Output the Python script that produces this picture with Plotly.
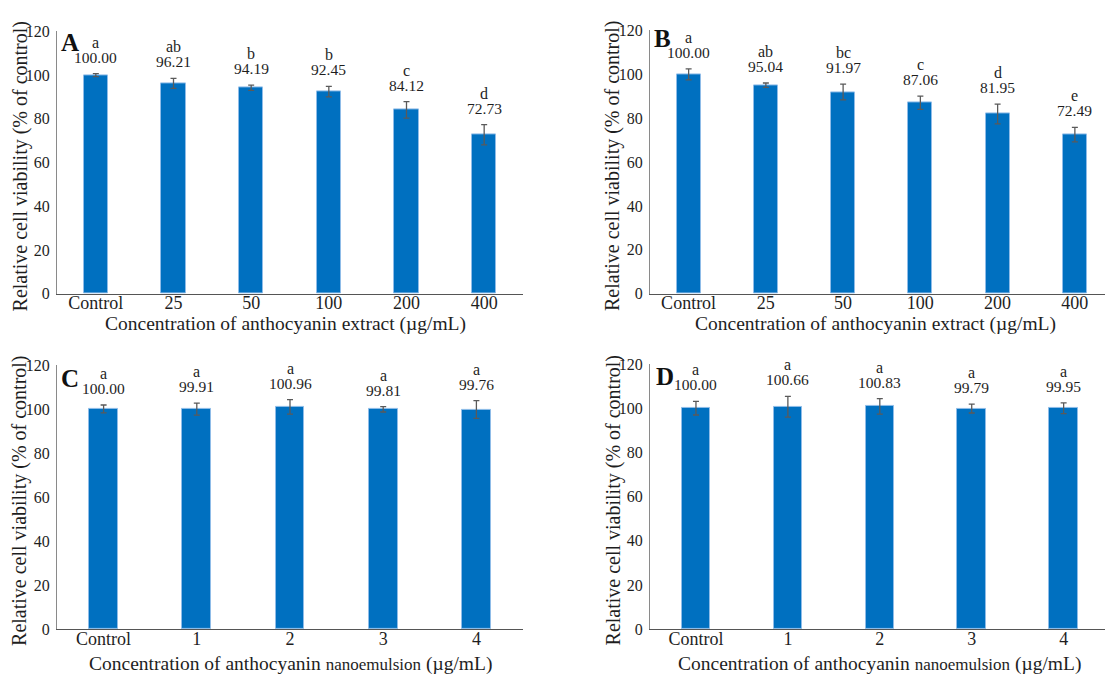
import plotly.graph_objects as go

# ---- data -------------------------------------------------------------
cats_extract = ["Control", "25", "50", "100", "200", "400"]
cats_nano = ["Control", "1", "2", "3", "4"]

vals_a = [100.00, 96.21, 94.19, 92.45, 84.12, 72.73]
err_a = [0.7, 2.3, 1.2, 2.4, 3.8, 4.6]
sig_a = ["a", "ab", "b", "b", "c", "d"]

vals_b = [100.00, 95.04, 91.97, 87.06, 81.95, 72.49]
err_b = [2.5, 1.0, 3.6, 3.0, 4.5, 3.3]
sig_b = ["a", "ab", "bc", "c", "d", "e"]

vals_c = [100.00, 99.91, 100.96, 99.81, 99.76]
err_c = [1.8, 2.7, 3.3, 1.2, 4.0]
sig_c = ["a", "a", "a", "a", "a"]

vals_d = [100.00, 100.66, 100.83, 99.79, 99.95]
err_d = [3.1, 4.7, 3.5, 2.0, 2.4]
sig_d = ["a", "a", "a", "a", "a"]

y_ticks = [0, 20, 40, 60, 80, 100, 120]

# ---- styling ----------------------------------------------------------
W, H = 1105, 684
FONT = "Liberation Serif"
TXT = "#1e1e1e"
BAR = "#0070C0"
EDGE = "#8fbce8"
ERR = "#5a5a5a"


def px_x(p):
    return p / W


def px_y(p):
    return 1 - p / H


title_extract = "Concentration of anthocyanin extract (µg/mL)"
title_nano = ("Concentration of anthocyanin "
              "<span style='font-size:17px'>nanoemulsion</span> (µg/mL)")

panels = [
    # letter, cats, vals, err, sig, x-domain px, y-domain px (top, bottom), x range,
    # x title, x-title centre px, x-title offset below axis, letter centre px
    ("A", cats_extract, vals_a, err_a, sig_a, (57, 523), (24, 293), [-0.5, 5.5],
     title_extract, 285, 31, (70, 35)),
    ("B", cats_extract, vals_b, err_b, sig_b, (650, 1105), (23, 293), [-0.5, 5.39],
     title_extract, 875, 31, (662, 31)),
    ("C", cats_nano, vals_c, err_c, sig_c, (57, 523), (366, 637), [-0.5, 4.5],
     title_nano, 290, 36, (70, 380)),
    ("D", cats_nano, vals_d, err_d, sig_d, (650, 1105), (365, 637), [-0.5, 4.45],
     title_nano, 879, 36, (665, 378)),
]

fig = go.Figure()
annotations = []
layout_axes = {}

for i, (letter, cats, vals, err, sig, xd, yd, xr, xtitle, xtc, xtoff, lpos) in enumerate(panels):
    n = "" if i == 0 else str(i + 1)
    xa, ya = "x" + n, "y" + n
    xpos = list(range(len(cats)))

    fig.add_trace(go.Bar(
        x=xpos, y=vals, xaxis=xa, yaxis=ya, width=0.31,
        marker=dict(color=BAR, line=dict(color=EDGE, width=1)),
        error_y=dict(type="data", array=err, visible=True,
                     color=ERR, thickness=1.3, width=3),
        showlegend=False, hoverinfo="skip",
    ))

    layout_axes["xaxis" + n] = dict(
        domain=[px_x(xd[0]), min(px_x(xd[1]), 1.0)], anchor=ya,
        range=xr, tickmode="array", tickvals=xpos, ticktext=cats,
        showline=True, linecolor="#555555", linewidth=1.2,
        ticks="", ticklabelstandoff=-7, showgrid=False, zeroline=False, fixedrange=True,
        tickfont=dict(family=FONT, size=18, color=TXT),
    )
    layout_axes["yaxis" + n] = dict(
        domain=[px_y(yd[1]), px_y(yd[0])], anchor=xa,
        range=[0, 120], tickmode="array", tickvals=y_ticks,
        showline=True, linecolor="#8a8a8a", linewidth=1.2,
        ticks="", ticklabelstandoff=3, showgrid=False, zeroline=False, fixedrange=True,
        tickfont=dict(family=FONT, size=16, color=TXT),
    )

    # value and significance labels above each error bar
    for xi, v, e, s in zip(xpos, vals, err, sig):
        annotations.append(dict(
            x=xi, y=v + e, xref=xa, yref=ya, text=f"{v:.2f}",
            showarrow=False, yanchor="bottom", yshift=6,
            font=dict(family=FONT, size=15.5, color=TXT),
        ))
        annotations.append(dict(
            x=xi, y=v + e, xref=xa, yref=ya, text=s,
            showarrow=False, yanchor="bottom", yshift=21,
            font=dict(family=FONT, size=16, color=TXT),
        ))

    # panel letter
    annotations.append(dict(
        x=px_x(lpos[0]), y=px_y(lpos[1]), xref="paper", yref="paper",
        text=f"<b>{letter}</b>", showarrow=False, xanchor="center", yanchor="middle",
        font=dict(family=FONT, size=25, color="#111111"),
    ))

    # axis titles
    annotations.append(dict(
        x=px_x(xd[0] - 37), y=px_y((yd[0] + yd[1]) / 2 + 4), xref="paper", yref="paper",
        text="Relative cell viability (% of control)", textangle=-90,
        showarrow=False, xanchor="center", yanchor="middle",
        font=dict(family=FONT, size=20, color=TXT),
    ))
    annotations.append(dict(
        x=px_x(xtc), y=px_y(yd[1] + xtoff), xref="paper", yref="paper",
        text=xtitle, showarrow=False, xanchor="center", yanchor="middle",
        font=dict(family=FONT, size=19.5, color=TXT),
    ))

fig.update_layout(
    width=W, height=H, margin=dict(l=0, r=0, t=0, b=0),
    paper_bgcolor="white", plot_bgcolor="white",
    annotations=annotations, bargap=0, **layout_axes,
)

fig.write_html("out.html", config={"displayModeBar": False})
